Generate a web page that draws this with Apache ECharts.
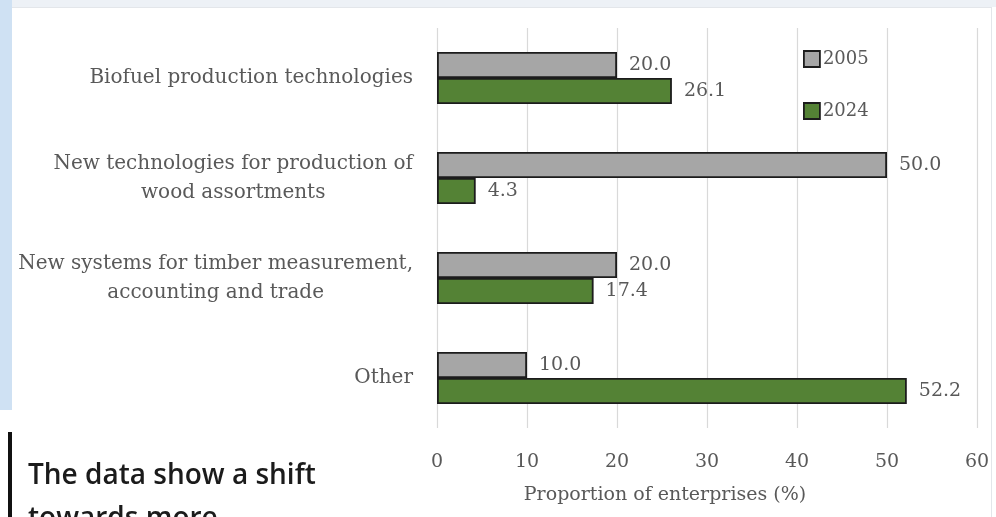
<!DOCTYPE html>
<html>
<head>
<meta charset="utf-8">
<script src="https://cdn.jsdelivr.net/npm/echarts@6/dist/echarts.min.js"></script>
<style>
  html, body { margin: 0; padding: 0; width: 996px; height: 517px; overflow: hidden; background: #ffffff; }
  #topband { position: absolute; left: 0; top: 0; width: 996px; height: 7px; background: #edf1f6; }
  #sideband { position: absolute; left: 0; top: 0; width: 12px; height: 410px; background: #cfe1f3; }
  #frame { position: absolute; left: 12px; top: 7px; width: 979px; height: 520px; border-top: 1px solid #e3e6ea; border-right: 1px solid #e3e6ea; background: #ffffff; }
  #chart { position: absolute; left: 0; top: 0; width: 996px; height: 517px; }
  #note { position: absolute; left: 0; top: 410px; width: 420px; height: 107px; background: #ffffff; }
  #note .bar { position: absolute; left: 8px; top: 22px; width: 4px; height: 90px; background: #111111; }
  #note .txt { position: absolute; left: 28px; top: 42px; font-family: "Open Sans", sans-serif; font-weight: 600; font-size: 28px; line-height: 43px; color: #1b1b1b; white-space: nowrap; }
</style>
</head>
<body>
<div id="topband"></div>
<div id="frame"></div>
<div id="sideband"></div>
<div id="chart"></div>
<div id="note"><div class="bar"></div><div class="txt">The data show a shift<br>towards more</div></div>
<script>
// Innovation areas reported by enterprises, share of respondents (%)
const categories = [
  'Biofuel production technologies',
  'New technologies for production of\nwood assortments',
  'New systems for timber measurement,\naccounting and trade',
  'Other'
];
const values2005 = [20.0, 50.0, 20.0, 10.0];
const values2024 = [26.1, 4.3, 17.4, 52.2];
const seriesNames = ['2005', '2024'];
const xTicks = [0, 10, 20, 30, 40, 50, 60];

const serif = '"DejaVu Serif", serif';
const textGray = '#595959';
const edge = '#1c1c1c';

const chart = echarts.init(document.getElementById('chart'), null, { renderer: 'canvas' });

function barSeries(name, data, color) {
  return {
    name: name,
    type: 'bar',
    data: data,
    barGap: '0%',
    barCategoryGap: '48%',
    itemStyle: { color: color, borderColor: edge, borderWidth: 1.8 },
    label: {
      show: true,
      position: 'right',
      distance: 12,
      formatter: p => p.value.toFixed(1),
      fontFamily: serif,
      fontSize: 19,
      color: textGray
    },
    emphasis: { disabled: true }
  };
}

chart.setOption({
  backgroundColor: 'transparent',
  animation: false,
  grid: { left: 437, right: 19, top: 28, bottom: 89, containLabel: false },
  legend: {
    orient: 'vertical',
    left: 803,
    top: 50,
    padding: 0,
    itemWidth: 16,
    itemHeight: 16,
    itemGap: 34,
    icon: 'rect',
    textStyle: { fontFamily: serif, fontSize: 18, color: textGray, padding: [0, 0, 0, -2] },
    itemStyle: { borderColor: edge, borderWidth: 1.8 },
    data: seriesNames
  },
  xAxis: {
    type: 'value',
    min: xTicks[0],
    max: xTicks[xTicks.length - 1],
    interval: 10,
    name: 'Proportion of enterprises (%)',
    nameLocation: 'middle',
    nameGap: 58,
    nameTextStyle: { fontFamily: serif, fontSize: 19, color: textGray, padding: [0, 84, 0, 0] },
    axisLine: { show: false },
    axisTick: { show: false },
    axisLabel: { margin: 25, fontFamily: serif, fontSize: 19, color: textGray },
    splitLine: { show: true, lineStyle: { color: '#d9d9d9', width: 1.2 } }
  },
  yAxis: {
    type: 'category',
    inverse: true,
    data: categories,
    axisLine: { show: false },
    axisTick: { show: false },
    axisLabel: {
      margin: 24,
      lineHeight: 29,
      formatter: v => v.split('\n').map(s => '{c|' + s + '}').join('\n'),
      rich: {
        c: { align: 'center', fontFamily: serif, fontSize: 20, color: textGray, lineHeight: 29 }
      }
    }
  },
  series: [
    barSeries(seriesNames[0], values2005, '#a6a6a6'),
    barSeries(seriesNames[1], values2024, '#548235')
  ]
});
</script>
</body>
</html>
